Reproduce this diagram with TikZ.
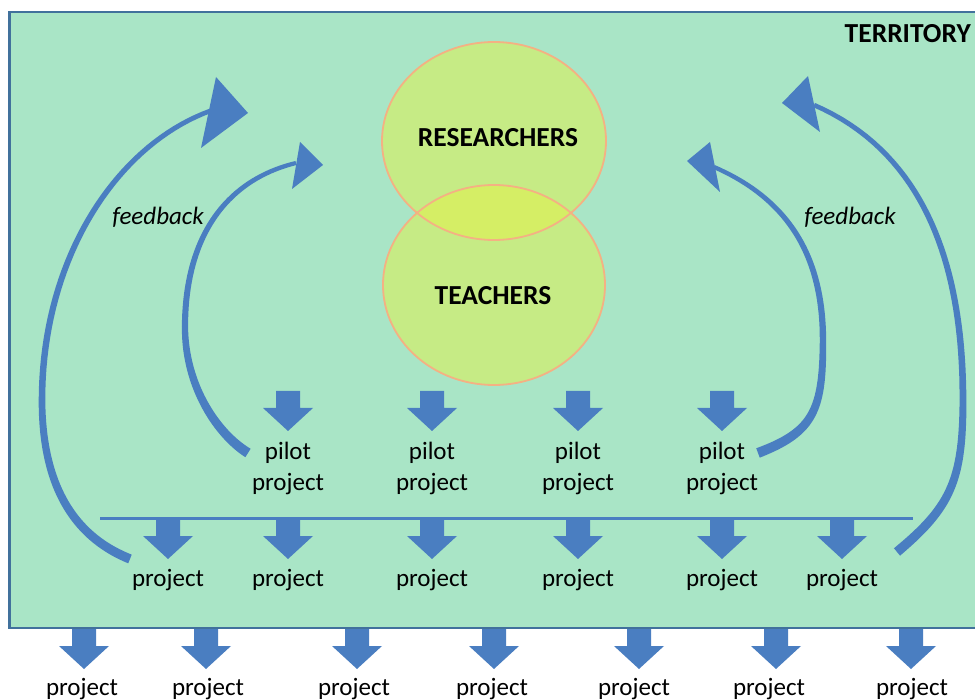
\documentclass[tikz,border=0pt]{standalone}
\usepackage{fontspec}
\setmainfont{Carlito}
\usetikzlibrary{calc,shapes.geometric}
\definecolor{terr}{RGB}{169,229,198}
\definecolor{terrline}{RGB}{65,113,156}
\definecolor{ablue}{RGB}{74,126,193}
\definecolor{cfill}{RGB}{228,241,70}
\definecolor{cline}{RGB}{244,177,131}
% cubic Bezier control points for a tapered band
\newcommand\setbez[8]{\def\bxa{#1}\def\bya{#2}\def\bxb{#3}\def\byb{#4}\def\bxc{#5}\def\byc{#6}\def\bxd{#7}\def\byd{#8}}
% tapered band along the current Bezier: half width #1 at start, #2 at end
\newcommand\taperfill[2]{%
  \fill[ablue] plot[domain=0:1, samples=40, variable=\t]
    ({bzx(\t)+(#1+(#2-#1)*\t)*bnx(\t)}, {bzy(\t)+(#1+(#2-#1)*\t)*bny(\t)})
    -- plot[domain=1:0, samples=40, variable=\t]
    ({bzx(\t)-(#1+(#2-#1)*\t)*bnx(\t)}, {bzy(\t)-(#1+(#2-#1)*\t)*bny(\t)}) -- cycle;}
\tikzset{
  lbl/.style={font=\fontsize{25}{30}\selectfont, inner sep=0pt, anchor=base},
  flbl/.style={font=\fontsize{25}{30}\selectfont\itshape, inner sep=0pt, anchor=base},
  blbl/.style={font=\fontsize{27.5}{32}\selectfont\bfseries, inner sep=0pt, anchor=base},
  circ/.style={ellipse, inner sep=0pt, fill=cfill, fill opacity=0.5, draw=none},
  circline/.style={draw=cline, line width=1.8pt},
  darrow/.pic={\fill[ablue] (-12,0) -- (12,0) -- (12,17) -- (25,17) -- (0,40) -- (-25,17) -- (-12,17) -- cycle;}
}
\begin{document}
\begin{tikzpicture}[x=1pt,y=-1pt,
  declare function={
    bzx(\t)=(1-\t)*(1-\t)*(1-\t)*\bxa+3*(1-\t)*(1-\t)*\t*\bxb+3*(1-\t)*\t*\t*\bxc+\t*\t*\t*\bxd;
    bzy(\t)=(1-\t)*(1-\t)*(1-\t)*\bya+3*(1-\t)*(1-\t)*\t*\byb+3*(1-\t)*\t*\t*\byc+\t*\t*\t*\byd;
    bdx(\t)=(3*(1-\t)*(1-\t)*(\bxb-\bxa)+6*(1-\t)*\t*(\bxc-\bxb)+3*\t*\t*(\bxd-\bxc))/100;
    bdy(\t)=(3*(1-\t)*(1-\t)*(\byb-\bya)+6*(1-\t)*\t*(\byc-\byb)+3*\t*\t*(\byd-\byc))/100;
    bnx(\t)=-bdy(\t)/veclen(bdx(\t),bdy(\t));
    bny(\t)=bdx(\t)/veclen(bdx(\t),bdy(\t));
  }]
\useasboundingbox (0,0) rectangle (975,700);
\fill[white] (0,0) rectangle (975,700);
% territory
\node[draw=terrline, line width=2.5pt, fill=terr, minimum width=985pt, minimum height=616pt, inner sep=0pt] (terrbox) at (502,320) {};
\node[blbl, anchor=base east] (territory) at (971,43) {TERRITORY};
% circles
\node[circ, minimum width=224pt, minimum height=198pt] (res) at (494,141) {};
\node[circ, minimum width=222pt, minimum height=200pt] (tea) at (494,285) {};
\draw[circline] (res.center) ellipse [x radius=112, y radius=99];
\draw[circline] (tea.center) ellipse [x radius=111, y radius=100];
\node[blbl] (restxt) at (498,147) {RESEARCHERS};
\node[blbl] (teatxt) at (493,305) {TEACHERS};
% feedback labels
\node[flbl] (fbl) at (158,225) {feedback};
\node[flbl] (fbr) at (850,225) {feedback};
% pilot projects
\foreach \x/\n in {288/1,432/2,578/3,722/4}{
  \pic (pa\n) at (\x,391) {darrow};
  \node[lbl] (pilot\n) at (\x,460) {pilot};
  \node[lbl] (pproj\n) at (\x,490) {project};
}
% horizontal line
\coordinate (hl) at (100,518);
\coordinate (hr) at (913,518);
\draw[ablue, line width=3pt] (hl) -- (hr);
% middle projects
\foreach \x/\n in {168/1,288/2,432/3,578/4,722/5,842/6}{
  \pic (ma\n) at (\x,519) {darrow};
  \node[lbl] (mproj\n) at (\x,586) {project};
}
% bottom projects
\foreach \xa/\xl/\n in {84/82/1,206/208/2,357/354/3,494/492/4,639/634/5,776/769/6,911/912/7}{
  \pic (ba\n) at (\xa,629) {darrow};
  \node[lbl] (bproj\n) at (\xl,695) {project};
}
% ---------- left outer feedback arrow
\setbez{210}{111}{115}{146}{42}{260}{42}{400}\taperfill{2.3}{3.3}
\setbez{42}{400}{42}{480}{70}{535}{130}{559}\taperfill{3.3}{4.7}
\fill[ablue] (216,77) -- (248,113) -- (201,148) -- cycle;
% ---------- left inner feedback arrow
\setbez{296}{163}{226}{180}{185}{237}{185}{327}\taperfill{2.1}{3.1}
\setbez{185}{327}{185}{387}{218}{434.5}{248}{453}\taperfill{3.1}{5.0}
\fill[ablue] (300,142) -- (323,165) -- (292,189) -- cycle;
% ---------- right inner feedback arrow
\setbez{714}{167}{783}{197}{823}{250}{823}{340}\taperfill{2.1}{3.2}
\setbez{823}{340}{823}{410}{814}{431.7}{758}{453}\taperfill{3.2}{5.0}
\fill[ablue] (710,142) -- (687,161) -- (720,192) -- cycle;
% ---------- right outer feedback arrow
\setbez{814}{105}{943}{161}{963}{300}{963}{400}\taperfill{2.3}{3.4}
\setbez{963}{400}{963}{480}{951}{507}{897}{552}\taperfill{3.4}{4.8}
\fill[ablue] (808,76) -- (782,103) -- (820,132) -- cycle;
\end{tikzpicture}
\end{document}
